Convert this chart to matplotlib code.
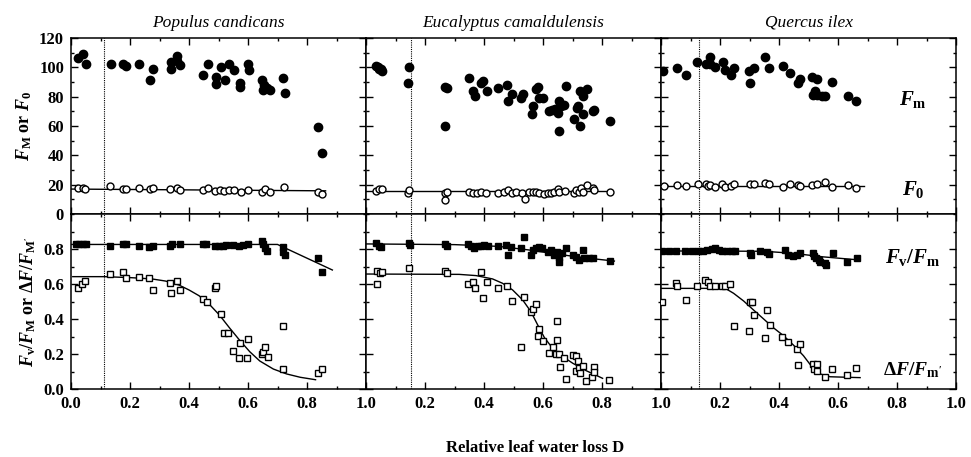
import matplotlib
matplotlib.use("Agg")
import matplotlib.pyplot as plt
from matplotlib.ticker import MultipleLocator

plt.rcParams["font.family"] = "Liberation Serif"
plt.rcParams["mathtext.fontset"] = "custom"
plt.rcParams["mathtext.it"] = "Liberation Serif:italic:bold"
plt.rcParams["mathtext.rm"] = "Liberation Serif:bold"
plt.rcParams["mathtext.bf"] = "Liberation Serif:bold"

# ── Data: Populus candicans ─────────────────────────────────────────────────
pc_fm_d = [0.023, 0.040, 0.051, 0.134, 0.177, 0.185, 0.232, 0.267, 0.277, 0.340,
           0.340, 0.360, 0.360, 0.371, 0.449, 0.463, 0.491, 0.491, 0.509, 0.523,
           0.535, 0.552, 0.574, 0.574, 0.600, 0.602, 0.648, 0.654, 0.651, 0.663,
           0.674, 0.720, 0.726, 0.838, 0.851]
pc_fm = [106.4, 109.0, 102.3, 102.5, 102.5, 100.7, 102.0, 91.1, 98.9, 103.9,
         98.9, 108.0, 104.0, 101.8, 94.8, 102.5, 93.4, 88.6, 100.2, 91.1,
         102.0, 97.9, 89.3, 86.6, 102.0, 98.4, 91.6, 88.2, 84.7, 85.9,
         84.3, 92.7, 82.5, 59.2, 41.5]
pc_f0_d = [0.023, 0.040, 0.049, 0.133, 0.177, 0.185, 0.232, 0.269, 0.278, 0.337,
           0.360, 0.369, 0.448, 0.463, 0.489, 0.505, 0.520, 0.534, 0.551, 0.575,
           0.600, 0.646, 0.659, 0.674, 0.722, 0.837, 0.851]
pc_f0 = [17.5, 17.5, 16.9, 19.1, 16.9, 16.9, 17.5, 16.9, 17.8, 17.1,
         17.8, 16.4, 16.2, 17.5, 15.7, 16.4, 15.7, 16.4, 16.4, 15.3,
         16.6, 14.8, 17.3, 15.3, 18.7, 14.8, 13.4]
pc_fv_d = [0.017, 0.028, 0.040, 0.051, 0.131, 0.177, 0.185, 0.231, 0.265, 0.277,
           0.337, 0.343, 0.371, 0.446, 0.457, 0.489, 0.501, 0.514, 0.526, 0.549,
           0.569, 0.583, 0.600, 0.646, 0.651, 0.657, 0.663, 0.718, 0.720, 0.726,
           0.837, 0.851]
pc_fv = [0.827, 0.827, 0.827, 0.827, 0.815, 0.827, 0.827, 0.819, 0.811, 0.819,
         0.819, 0.827, 0.827, 0.827, 0.827, 0.815, 0.819, 0.819, 0.823, 0.823,
         0.815, 0.823, 0.827, 0.846, 0.827, 0.804, 0.789, 0.813, 0.785, 0.766,
         0.747, 0.667]
pc_df_d = [0.023, 0.037, 0.048, 0.131, 0.175, 0.185, 0.231, 0.265, 0.277, 0.337,
           0.339, 0.358, 0.369, 0.448, 0.461, 0.489, 0.491, 0.509, 0.520, 0.531,
           0.549, 0.571, 0.574, 0.598, 0.600, 0.646, 0.651, 0.657, 0.669, 0.720,
           0.720, 0.837, 0.851]
pc_df = [0.579, 0.598, 0.617, 0.655, 0.670, 0.632, 0.638, 0.632, 0.564, 0.604,
         0.547, 0.617, 0.564, 0.514, 0.495, 0.575, 0.590, 0.427, 0.322, 0.322,
         0.217, 0.179, 0.261, 0.179, 0.284, 0.200, 0.213, 0.238, 0.181, 0.360,
         0.112, 0.090, 0.112]
pc_f0_fit_d = [0.0, 0.863]
pc_f0_fit = [17.0, 15.8]
pc_fv_fit_d = [0.0, 0.70, 0.886]
pc_fv_fit = [0.826, 0.826, 0.680]
pc_df_fit_d = [0.006, 0.114, 0.206, 0.274, 0.320, 0.366, 0.400, 0.434, 0.469,
               0.503, 0.537, 0.571, 0.606, 0.640, 0.686, 0.731, 0.777, 0.829]
pc_df_fit = [0.642, 0.642, 0.636, 0.629, 0.617, 0.594, 0.566, 0.533, 0.484,
             0.423, 0.350, 0.280, 0.213, 0.160, 0.114, 0.086, 0.067, 0.053]
pc_dline = 0.112

# ── Data: Eucalyptus camaldulensis ──────────────────────────────────────────
ec_fm_d = [0.034, 0.040, 0.045, 0.051, 0.054, 0.141, 0.147, 0.269, 0.273, 0.268,
           0.348, 0.362, 0.371, 0.390, 0.398, 0.409, 0.446, 0.478, 0.480, 0.495,
           0.525, 0.533, 0.562, 0.567, 0.576, 0.582, 0.588, 0.599, 0.619, 0.631,
           0.642, 0.650, 0.653, 0.655, 0.661, 0.672, 0.678, 0.706, 0.714, 0.718,
           0.727, 0.735, 0.737, 0.748, 0.725, 0.768, 0.774, 0.827]
ec_fm = [100.7, 100.0, 98.9, 98.9, 97.7, 89.3, 100.0, 86.6, 85.9, 59.7,
         92.7, 83.6, 80.2, 89.3, 90.4, 84.1, 85.9, 87.7, 77.2, 82.0,
         79.0, 82.0, 68.1, 73.3, 85.2, 86.3, 79.0, 79.0, 69.9, 71.1,
         71.5, 69.2, 56.3, 76.8, 73.3, 74.5, 87.5, 64.7, 72.2, 73.8,
         83.6, 68.1, 80.2, 85.2, 60.1, 69.9, 71.1, 63.1]
ec_f0_d = [0.034, 0.045, 0.054, 0.141, 0.147, 0.269, 0.273, 0.268, 0.348, 0.362,
           0.375, 0.390, 0.407, 0.446, 0.469, 0.480, 0.495, 0.508, 0.529, 0.539,
           0.554, 0.565, 0.576, 0.588, 0.602, 0.616, 0.627, 0.638, 0.650, 0.655,
           0.676, 0.706, 0.712, 0.721, 0.729, 0.737, 0.748, 0.768, 0.774, 0.827]
ec_f0 = [15.7, 16.9, 16.9, 14.1, 16.4, 14.6, 15.3, 9.6, 15.3, 14.1,
         14.6, 14.8, 14.6, 14.6, 15.3, 16.4, 14.6, 14.8, 14.1, 10.0,
         15.3, 14.8, 14.8, 14.1, 13.7, 14.1, 14.6, 15.3, 16.9, 14.8,
         15.7, 14.1, 16.4, 14.8, 18.0, 14.8, 19.8, 18.0, 16.4, 15.3]
ec_fv_d = [0.034, 0.043, 0.051, 0.145, 0.149, 0.269, 0.273, 0.345, 0.356, 0.367,
           0.379, 0.390, 0.401, 0.412, 0.446, 0.475, 0.480, 0.492, 0.525, 0.537,
           0.559, 0.565, 0.576, 0.588, 0.597, 0.616, 0.627, 0.638, 0.646, 0.653,
           0.655, 0.664, 0.678, 0.701, 0.712, 0.723, 0.735, 0.740, 0.757, 0.768,
           0.827]
ec_fv = [0.832, 0.819, 0.813, 0.832, 0.823, 0.827, 0.819, 0.827, 0.819, 0.808,
         0.819, 0.819, 0.823, 0.819, 0.819, 0.823, 0.766, 0.813, 0.808, 0.867,
         0.766, 0.794, 0.808, 0.813, 0.808, 0.785, 0.794, 0.766, 0.785, 0.728,
         0.756, 0.775, 0.804, 0.766, 0.756, 0.737, 0.794, 0.747, 0.750, 0.750,
         0.731]
ec_df_d = [0.036, 0.036, 0.049, 0.053, 0.147, 0.269, 0.273, 0.345, 0.362, 0.371,
           0.390, 0.398, 0.409, 0.446, 0.477, 0.494, 0.525, 0.537, 0.559, 0.565,
           0.576, 0.582, 0.588, 0.599, 0.621, 0.633, 0.644, 0.647, 0.647, 0.653,
           0.658, 0.672, 0.678, 0.701, 0.712, 0.712, 0.718, 0.723, 0.727, 0.735,
           0.746, 0.766, 0.772, 0.774, 0.825]
ec_df = [0.674, 0.600, 0.661, 0.670, 0.693, 0.674, 0.665, 0.600, 0.610, 0.575,
         0.670, 0.522, 0.613, 0.575, 0.590, 0.505, 0.240, 0.526, 0.438, 0.457,
         0.484, 0.305, 0.343, 0.276, 0.208, 0.242, 0.200, 0.389, 0.280, 0.200,
         0.128, 0.175, 0.057, 0.194, 0.189, 0.103, 0.160, 0.118, 0.093, 0.133,
         0.046, 0.070, 0.124, 0.099, 0.053]
ec_f0_fit_d = [0.0, 0.827]
ec_f0_fit = [15.7, 15.7]
ec_fv_fit_d = [0.0, 0.30, 0.45, 0.55, 0.65, 0.75, 0.842]
ec_fv_fit = [0.829, 0.825, 0.815, 0.795, 0.770, 0.748, 0.731]
ec_df_fit_d = [0.0, 0.316, 0.373, 0.429, 0.463, 0.497, 0.531, 0.559, 0.582,
               0.605, 0.633, 0.667, 0.701, 0.746, 0.802]
ec_df_fit = [0.657, 0.655, 0.648, 0.629, 0.604, 0.566, 0.509, 0.442, 0.366,
             0.293, 0.232, 0.185, 0.147, 0.105, 0.061]
ec_dline = 0.153

# ── Data: Quercus ilex ──────────────────────────────────────────────────────
qi_fm_d = [0.006, 0.054, 0.086, 0.122, 0.153, 0.165, 0.165, 0.184, 0.209, 0.218,
           0.237, 0.248, 0.299, 0.302, 0.314, 0.353, 0.365, 0.413, 0.436, 0.463,
           0.472, 0.512, 0.528, 0.515, 0.522, 0.530, 0.545, 0.556, 0.581, 0.633,
           0.661]
qi_fm = [97.7, 99.5, 95.0, 103.4, 102.3, 107.1, 102.3, 100.2, 103.6, 97.9,
         95.0, 99.5, 97.3, 89.3, 99.5, 107.1, 99.5, 101.1, 96.1, 89.3,
         92.0, 93.2, 92.0, 81.3, 83.6, 81.3, 80.6, 80.2, 89.7, 80.6,
         76.8]
qi_f0_d = [0.009, 0.054, 0.086, 0.125, 0.153, 0.161, 0.167, 0.184, 0.207, 0.218,
           0.237, 0.248, 0.300, 0.314, 0.353, 0.365, 0.413, 0.436, 0.463, 0.472,
           0.512, 0.528, 0.556, 0.581, 0.633, 0.661]
qi_f0 = [19.4, 19.6, 19.1, 20.5, 20.5, 19.4, 19.8, 18.2, 20.5, 18.7,
         19.1, 20.5, 20.3, 20.3, 21.0, 20.5, 18.7, 20.5, 19.8, 19.1,
         19.8, 20.3, 21.6, 18.2, 19.8, 17.5]
qi_fv_d = [0.003, 0.026, 0.052, 0.082, 0.105, 0.125, 0.144, 0.156, 0.173, 0.184,
           0.195, 0.207, 0.223, 0.240, 0.252, 0.302, 0.305, 0.334, 0.359, 0.365,
           0.421, 0.432, 0.447, 0.460, 0.472, 0.515, 0.520, 0.526, 0.534, 0.540,
           0.556, 0.560, 0.582, 0.630, 0.664]
qi_fv = [0.789, 0.789, 0.789, 0.789, 0.789, 0.789, 0.789, 0.794, 0.798, 0.804,
         0.794, 0.791, 0.789, 0.789, 0.789, 0.775, 0.766, 0.789, 0.785, 0.770,
         0.794, 0.766, 0.760, 0.766, 0.775, 0.775, 0.760, 0.747, 0.737, 0.724,
         0.718, 0.709, 0.775, 0.728, 0.750]
qi_df_d = [0.003, 0.052, 0.054, 0.086, 0.122, 0.150, 0.161, 0.167, 0.184, 0.207,
           0.218, 0.235, 0.246, 0.299, 0.302, 0.308, 0.316, 0.353, 0.361, 0.368,
           0.410, 0.432, 0.460, 0.472, 0.463, 0.515, 0.519, 0.528, 0.528, 0.556,
           0.579, 0.630, 0.660]
qi_df = [0.495, 0.604, 0.590, 0.509, 0.590, 0.623, 0.610, 0.589, 0.589, 0.590,
         0.590, 0.598, 0.360, 0.333, 0.499, 0.499, 0.423, 0.290, 0.450, 0.366,
         0.295, 0.267, 0.229, 0.257, 0.137, 0.141, 0.114, 0.141, 0.105, 0.070,
         0.112, 0.080, 0.118]
qi_f0_fit_d = [0.0, 0.688]
qi_f0_fit = [19.1, 19.1]
qi_fv_fit_d = [0.0, 0.35, 0.45, 0.55, 0.675]
qi_fv_fit = [0.789, 0.787, 0.775, 0.755, 0.737]
qi_df_fit_d = [0.0, 0.201, 0.223, 0.246, 0.280, 0.314, 0.348, 0.381, 0.415,
               0.449, 0.483, 0.511, 0.540, 0.573, 0.630, 0.675]
qi_df_fit = [0.575, 0.575, 0.570, 0.547, 0.503, 0.451, 0.400, 0.350, 0.305,
             0.251, 0.190, 0.128, 0.086, 0.070, 0.067, 0.065]
qi_dline = 0.130

species = ["Populus candicans", "Eucalyptus camaldulensis", "Quercus ilex"]

panels = [
    dict(fm=(pc_fm_d, pc_fm), f0=(pc_f0_d, pc_f0), fv=(pc_fv_d, pc_fv), df=(pc_df_d, pc_df),
         f0fit=(pc_f0_fit_d, pc_f0_fit), fvfit=(pc_fv_fit_d, pc_fv_fit),
         dffit=(pc_df_fit_d, pc_df_fit), dline=pc_dline),
    dict(fm=(ec_fm_d, ec_fm), f0=(ec_f0_d, ec_f0), fv=(ec_fv_d, ec_fv), df=(ec_df_d, ec_df),
         f0fit=(ec_f0_fit_d, ec_f0_fit), fvfit=(ec_fv_fit_d, ec_fv_fit),
         dffit=(ec_df_fit_d, ec_df_fit), dline=ec_dline),
    dict(fm=(qi_fm_d, qi_fm), f0=(qi_f0_d, qi_f0), fv=(qi_fv_d, qi_fv), df=(qi_df_d, qi_df),
         f0fit=(qi_f0_fit_d, qi_f0_fit), fvfit=(qi_fv_fit_d, qi_fv_fit),
         dffit=(qi_df_fit_d, qi_df_fit), dline=qi_dline),
]

# ── Layout (pixel based) ────────────────────────────────────────────────────
FW, FH = 971, 457
fig = plt.figure(figsize=(FW / 100, FH / 100), dpi=100)
fig.patch.set_facecolor("white")

lefts = [71, 366, 661]
pw = 295
top_y0, top_y1 = 38, 214
bot_y0, bot_y1 = 214, 389


def style(ax):
    ax.tick_params(which="both", direction="in", top=True, right=True,
                   width=1.0, labelsize=12, pad=5)
    ax.tick_params(which="major", length=5)
    ax.tick_params(which="minor", length=2.5)
    for s in ax.spines.values():
        s.set_linewidth(1.1)
    for lab in ax.get_xticklabels() + ax.get_yticklabels():
        lab.set_fontweight("bold")


for i, p in enumerate(panels):
    x0 = lefts[i] / FW
    w = pw / FW
    ax_t = fig.add_axes([x0, 1 - top_y1 / FH, w, (top_y1 - top_y0) / FH])
    ax_b = fig.add_axes([x0, 1 - bot_y1 / FH, w, (bot_y1 - bot_y0) / FH])

    # top: Fm and F0
    ax_t.plot(*p["f0fit"], color="black", lw=1.0, zorder=2)
    ax_t.plot(*p["fm"], ls="none", marker="o", ms=6, mfc="black", mec="black", zorder=3)
    ax_t.plot(*p["f0"], ls="none", marker="o", ms=5, mfc="white", mec="black",
              mew=1.0, zorder=3)
    ax_t.axvline(p["dline"], color="black", lw=0.8, ls=(0, (1, 1)), zorder=1)
    ax_t.set_xlim(0, 1.0)
    ax_t.set_ylim(0, 120)
    ax_t.xaxis.set_major_locator(MultipleLocator(0.2))
    ax_t.xaxis.set_minor_locator(MultipleLocator(0.1))
    ax_t.yaxis.set_major_locator(MultipleLocator(20))
    ax_t.yaxis.set_minor_locator(MultipleLocator(10))
    ax_t.set_xticklabels([])
    style(ax_t)
    ax_t.set_title(species[i], fontstyle="italic", fontsize=12.5, pad=8)

    # bottom: Fv/Fm and dF/Fm'
    ax_b.plot(*p["fvfit"], color="black", lw=1.0, zorder=2)
    ax_b.plot(*p["dffit"], color="black", lw=1.0, zorder=2)
    ax_b.plot(*p["fv"], ls="none", marker="s", ms=5, mfc="black", mec="black", zorder=3)
    ax_b.plot(*p["df"], ls="none", marker="s", ms=5, mfc="white", mec="black",
              mew=1.0, zorder=3)
    ax_b.axvline(p["dline"], color="black", lw=0.8, ls=(0, (1, 1)), zorder=1)
    ax_b.set_xlim(0, 1.0)
    ax_b.set_ylim(0, 1.0)
    ax_b.xaxis.set_major_locator(MultipleLocator(0.2))
    ax_b.xaxis.set_minor_locator(MultipleLocator(0.1))
    ax_b.yaxis.set_major_locator(MultipleLocator(0.2))
    ax_b.yaxis.set_minor_locator(MultipleLocator(0.1))
    ax_b.set_yticks([0, 0.2, 0.4, 0.6, 0.8])
    ax_b.set_xticks([0, 0.2, 0.4, 0.6, 0.8, 1.0])
    if i == 0:
        ax_b.set_xticklabels(["0.0", "0.2", "0.4", "0.6", "0.8", "1.0"])
        ax_t.set_ylabel(r"$F_\mathrm{M}$ or $F_0$", fontsize=13, fontweight="bold")
        ax_b.set_ylabel(r"$F_\mathrm{v}/F_\mathrm{M}$ or $\Delta F/F_\mathrm{M'}$",
                        fontsize=13, fontweight="bold")
    else:
        ax_b.set_xticklabels(["", "0.2", "0.4", "0.6", "0.8", "1.0"])
        ax_t.set_yticklabels([])
        ax_b.set_yticklabels([])
    style(ax_b)

# right-hand series labels
fig.text(913 / FW, 1 - 100 / FH, r"$F_\mathrm{m}$", fontsize=15, ha="center", va="center")
fig.text(913 / FW, 1 - 190 / FH, r"$F_0$", fontsize=15, ha="center", va="center")
fig.text(913 / FW, 1 - 258 / FH, r"$F_\mathrm{v}/F_\mathrm{m}$", fontsize=15,
         ha="center", va="center")
fig.text(913 / FW, 1 - 370 / FH, r"$\Delta F/F_\mathrm{m'}$", fontsize=14,
         ha="center", va="center")

fig.text(535 / FW, 1 - 448 / FH, "Relative leaf water loss D", fontsize=12,
         fontweight="bold", ha="center", va="center")

fig.savefig("out.png", dpi=100, facecolor="white")
